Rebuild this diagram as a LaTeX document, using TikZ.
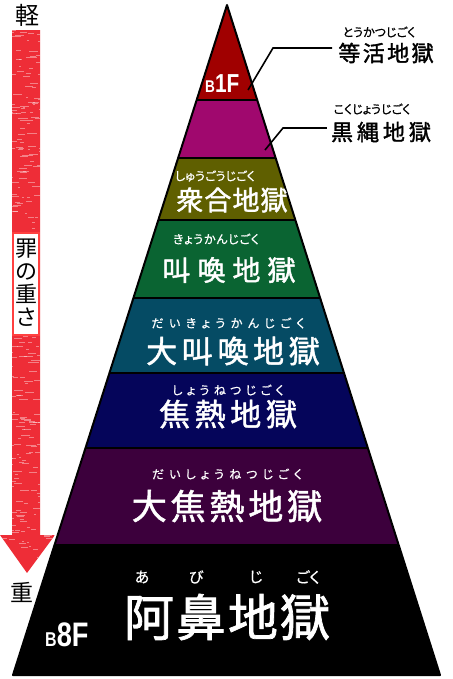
\documentclass[tikz,border=0pt]{standalone}
\usepackage{fontspec}
\usepackage{graphicx}
\usetikzlibrary{calc}
\newfontfamily\jp{Noto Sans CJK JP}[FakeBold=1.5]
\newfontfamily\jpr{Noto Sans CJK JP}
\newfontfamily\kana{Noto Sans CJK JP}[RawFeature=+palt, FakeBold=0.6]
\newfontfamily\lat{Liberation Sans}
\newcommand\fs[1]{\fontsize{#1}{#1}\selectfont}
\newcommand\lsp[1]{\addfontfeatures{LetterSpace=#1}}
\definecolor{cRed}{RGB}{160,0,0}
\definecolor{cMag}{RGB}{160,8,110}
\definecolor{cOli}{RGB}{95,95,0}
\definecolor{cGrn}{RGB}{10,100,50}
\definecolor{cTeal}{RGB}{5,75,100}
\definecolor{cNavy}{RGB}{5,5,90}
\definecolor{cPur}{RGB}{60,0,60}
\definecolor{arrowred}{RGB}{238,45,55}
\tikzset{
  hellname/.style={text=white, inner sep=0pt},
  ruby/.style={text=white, inner sep=0pt},
  sidelabel/.style={text=black, inner sep=0pt},
  leader/.style={draw=black, line width=1.6pt},
}
\newcommand\layer[3]{\fill[#3] ($(A)!{(#1-5)/670}!(L)$) -- ($(A)!{(#2-5)/670}!(L)$) -- ($(A)!{(#2-5)/670}!(R)$) -- ($(A)!{(#1-5)/670}!(R)$) -- cycle;}
\newcommand\sep[1]{\draw[line width=2pt] ($(A)!{(#1-5)/670}!(L)$) -- ($(A)!{(#1-5)/670}!(R)$);}
\begin{document}
\begin{tikzpicture}[x=1pt,y=-1pt]
\useasboundingbox (0,0) rectangle (452,679);
\fill[white] (0,0) rectangle (452,679);
\coordinate (A) at (227,5);
\coordinate (L) at (13,675);
\coordinate (R) at (440,675);
% layers
\layer{5}{100}{cRed}
\layer{100}{158}{cMag}
\layer{158}{220}{cOli}
\layer{220}{298}{cGrn}
\layer{298}{373}{cTeal}
\layer{373}{448}{cNavy}
\layer{448}{545}{cPur}
\layer{545}{675}{black}
\foreach \b in {100,158,220,298,373,448,545} {\sep{\b}}
\draw[line width=2pt, line join=round] (A) -- (L) -- (R) -- cycle;
% arrow
\begin{scope}
\clip (12,30) -- (40,30) -- (40,535) -- (55,535) -- (27,573) -- (0,535) -- (12,535) -- cycle;
\fill[arrowred] (0,30) rectangle (55,573);
\pgfmathsetseed{7}
\foreach \i in {1,...,420} {
  \pgfmathsetmacro\yy{30+rnd*543}
  \pgfmathsetmacro\xx{rnd*52}
  \pgfmathsetmacro\ww{1.5+rnd*9}
  \fill[white,opacity=0.4] (\xx,\yy) rectangle ++(\ww,1);
}
\end{scope}
\node[draw=red!75, line width=1.2pt, fill=white, minimum width=26pt, minimum height=102pt, inner sep=0pt] (box) at (26,284) {};
\node[sidelabel, align=center, font=\jpr\fontsize{22}{23}\selectfont] (tsumi) at (26,283) {罪\\の\\重\\さ};
\node[sidelabel, font=\jpr\fs{24}] (karui) at (27,15) {軽};
\node[sidelabel, font=\jpr\fs{23}] (omoi) at (22,592) {重};
% floor labels
\node[hellname, anchor=base west] (b1f) at (205,93) {\scalebox{0.8}[1]{\lat\bfseries\fs{17}B\fs{26}1F}};
\node[hellname, anchor=base west] (b8f) at (45,646) {\scalebox{0.8}[1]{\lat\bfseries\fs{20}B\fs{34}8F}};
% right labels
\node[sidelabel, font=\jp\fs{22}\lsp{11}] (t1) at (386,53) {等活地獄};
\node[sidelabel, font=\kana\fs{12}] (r1) at (379,32) {とうかつじごく};
\node[sidelabel, font=\jp\fs{22}\lsp{18}] (t2) at (381,132) {黒縄地獄};
\node[sidelabel, font=\kana\fs{12}] (r2) at (372,109) {こくじょうじごく};
\coordinate (p1) at (248,90);
\coordinate (k1) at (273,48);
\coordinate (e1) at ($(k1 -| t1.west)+(-6,0)$);
\draw[leader] (p1) -- (k1) -- (e1);
\coordinate (p2) at (265,150);
\coordinate (k2) at (283,128);
\coordinate (e2) at ($(k2 -| t2.west)+(-4,0)$);
\draw[leader] (p2) -- (k2) -- (e2);
% inside labels
\node[ruby, font=\kana\fs{12}] (r3) at (215,176) {しゅうごうじごく};
\node[hellname, font=\jp\fs{27}\lsp{4}] (t3) at (232,200) {衆合地獄};
\node[ruby, font=\kana\fs{12}\lsp{6}] (r4) at (216,239) {きょうかんじごく};
\node[hellname, font=\jp\fs{28}\lsp{25}] (t4) at (229,270) {叫喚地獄};
\node[ruby, font=\kana\fs{12}\lsp{45}] (r5) at (228,323) {だいきょうかんじごく};
\node[hellname, font=\jp\fs{31}\lsp{15}] (t5) at (233,351) {大叫喚地獄};
\node[ruby, font=\kana\fs{12}\lsp{36}] (r6) at (228,390) {しょうねつじごく};
\node[hellname, font=\jp\fs{31}\lsp{15}] (t6) at (228,414) {焦熱地獄};
\node[ruby, font=\kana\fs{12}\lsp{42}] (r7) at (227,474) {だいしょうねつじごく};
\node[hellname, font=\jp\fs{35}\lsp{11}] (t7) at (227,506) {大焦熱地獄};
\node[hellname, font=\jp\fs{50}\lsp{4}] (t8) at (227,617) {阿鼻地獄};
\node[ruby, font=\kana\fs{15}] (r8a) at (142,577) {あ};
\node[ruby, font=\kana\fs{15}] (r8b) at (196,577) {び};
\node[ruby, font=\kana\fs{15}] (r8c) at (256,577) {じ};
\node[ruby, font=\kana\fs{15}] (r8d) at (308,577) {ごく};
\end{tikzpicture}
\end{document}
